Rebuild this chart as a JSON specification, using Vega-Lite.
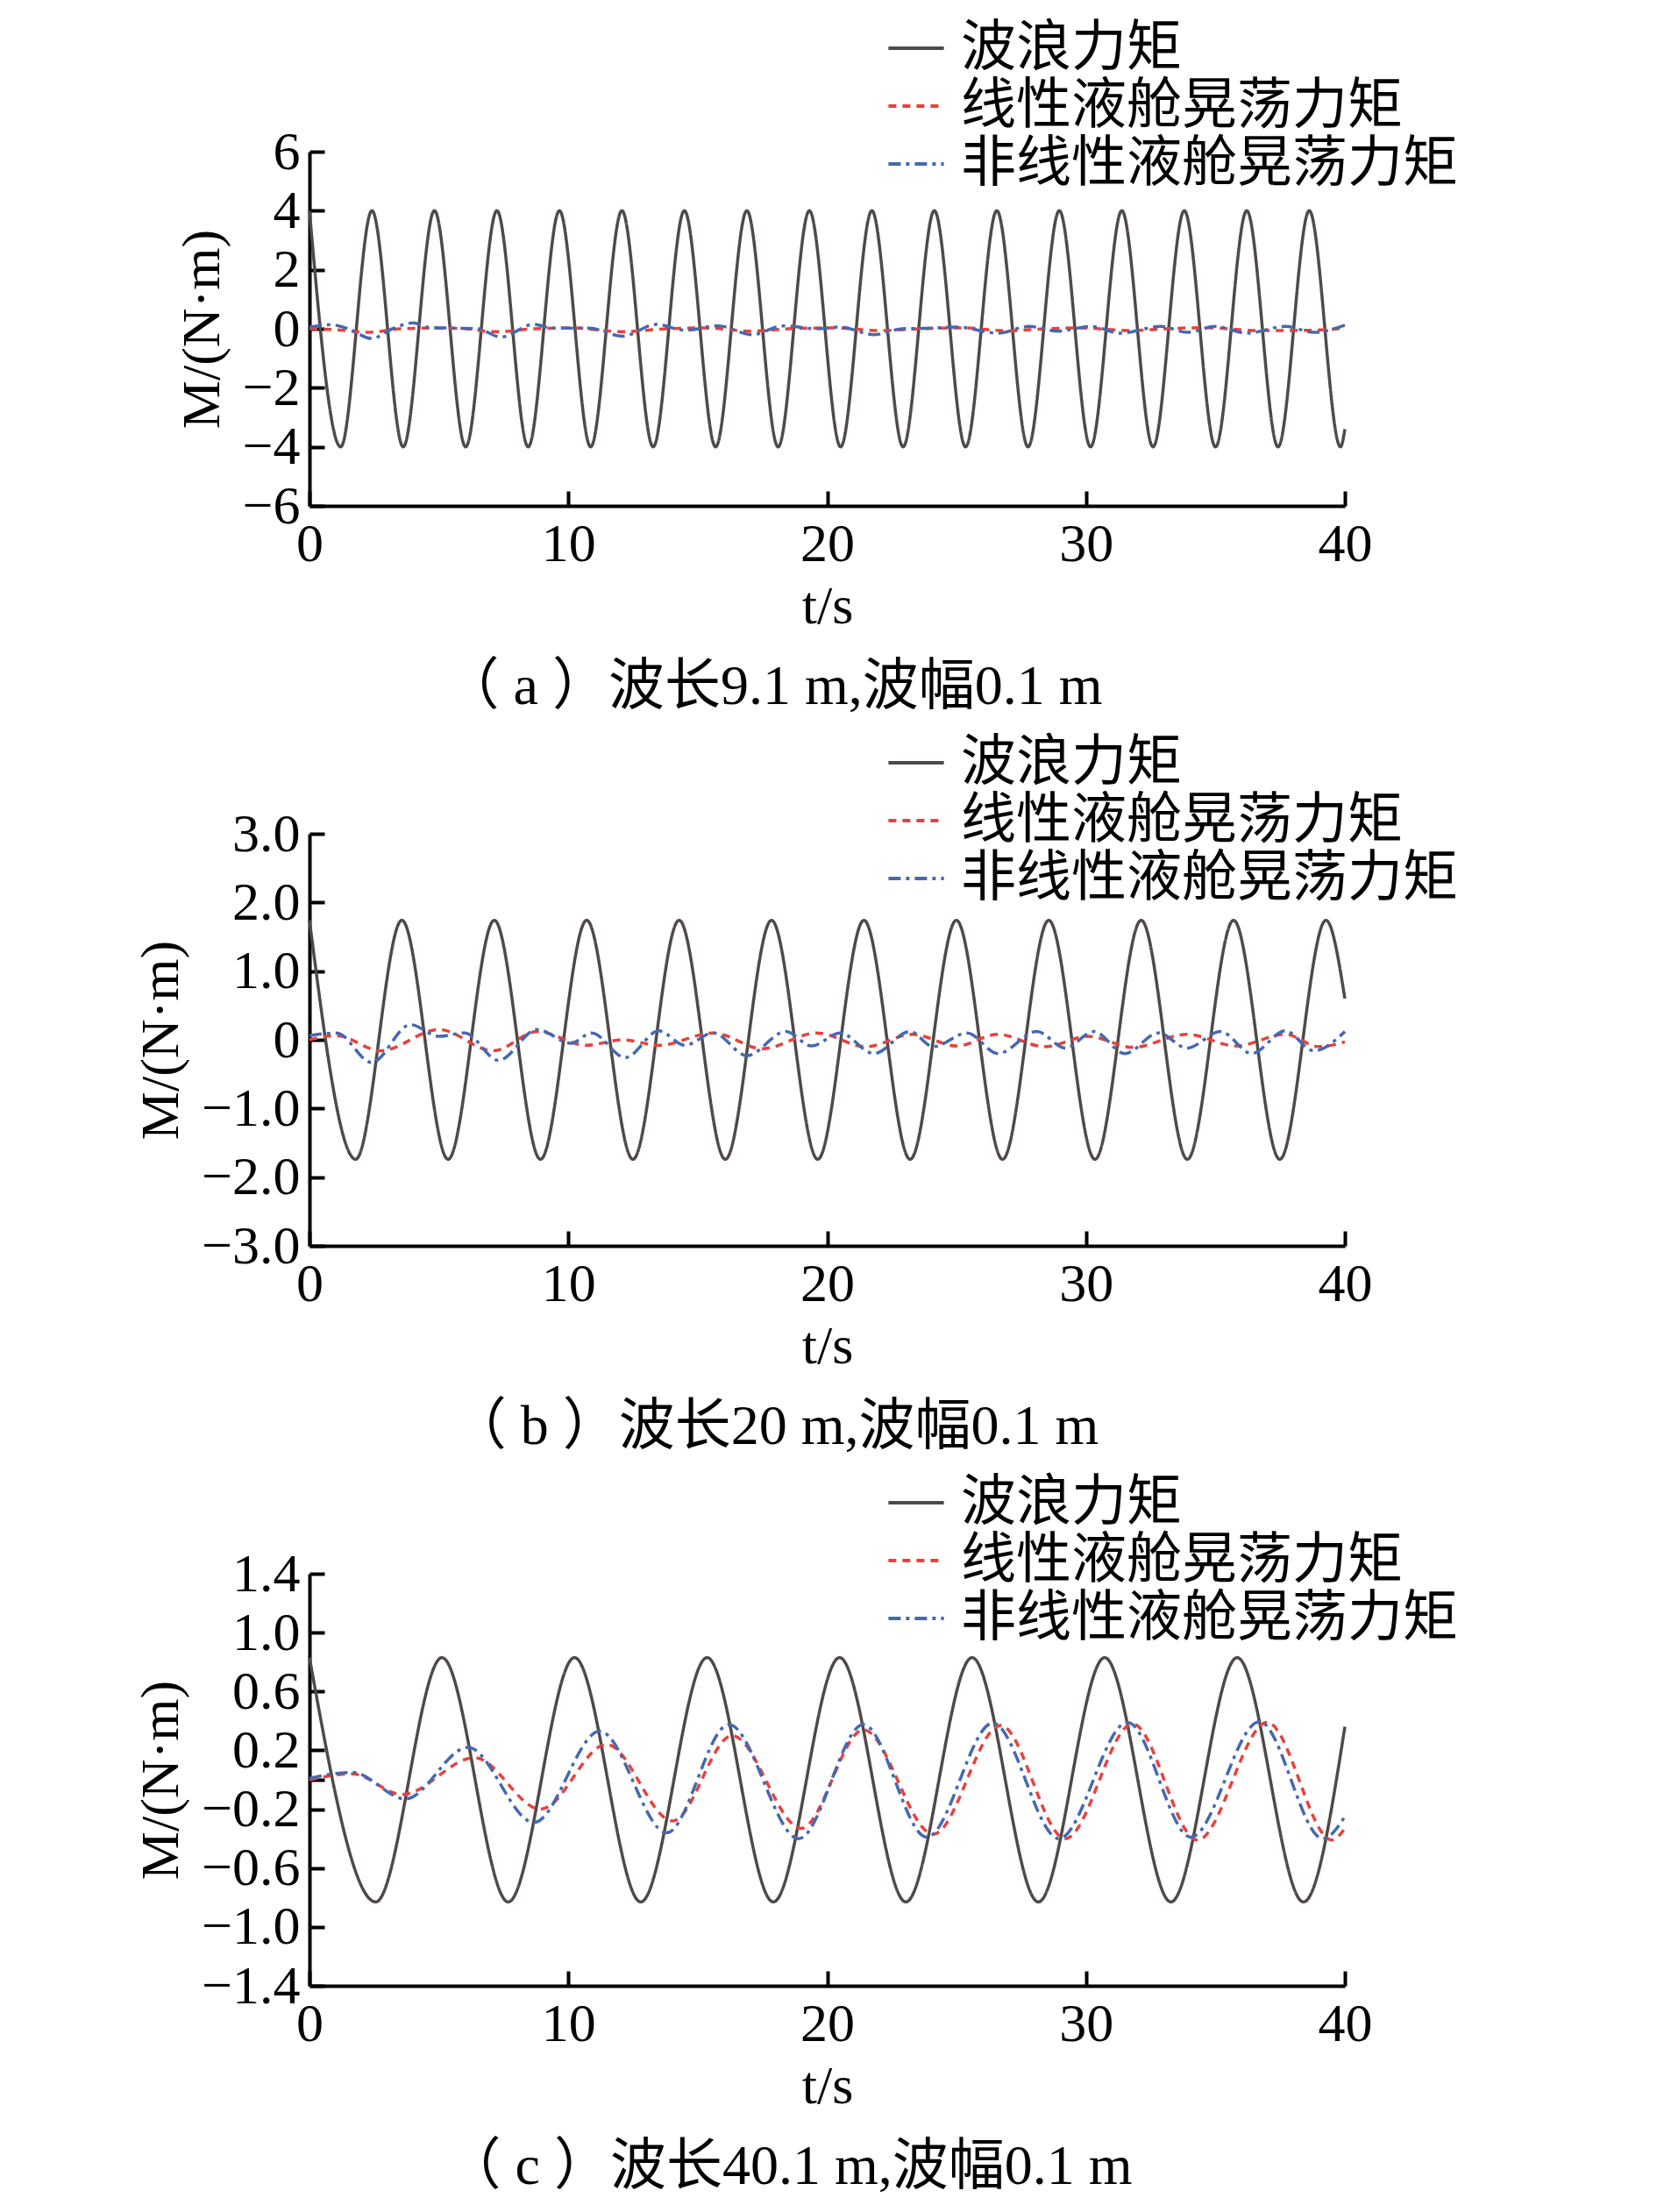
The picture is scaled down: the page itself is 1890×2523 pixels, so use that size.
{
  "$schema": "https://vega.github.io/schema/vega-lite/v6.json",
  "background": "white",
  "padding": {"left": 152, "top": 21, "right": 5, "bottom": 5},
  "config": {
    "font": "Liberation Serif, Noto Sans CJK SC",
    "view": {"stroke": null},
    "axis": {
      "labelFont": "Liberation Serif, Noto Sans CJK SC",
      "labelFontSize": 62, "labelColor": "#000",
      "domainColor": "#000", "domainWidth": 4,
      "tickColor": "#000", "tickWidth": 4, "tickSize": -17,
      "grid": false, "labelFlush": false, "labelOverlap": false,
      "titleFont": "Liberation Serif, Noto Sans CJK SC",
      "titleFontSize": 62, "titleFontWeight": "normal", "titleColor": "#000"
    },
    "axisX": {"labelPadding": 30, "titlePadding": 10},
    "axisY": {"labelPadding": 28, "titlePadding": 14},
    "legend": {
      "labelFont": "Noto Sans CJK SC", "labelFontSize": 63, "labelColor": "#000", "labelLimit": 0,
      "symbolType": "stroke", "symbolSize": 4000, "symbolStrokeWidth": 4,
      "rowPadding": 0, "labelOffset": 17
    },
    "title": {"font": "Liberation Serif, Noto Sans CJK SC", "fontSize": 64, "fontWeight": "normal", "color": "#000"}
  },
  "datasets": {
    "a": [
      {"t": 0, "M": 4, "s": "波浪力矩"}, {"t": 1.207, "M": -4, "s": "波浪力矩"}, {"t": 2.414, "M": 4, "s": "波浪力矩"}, {"t": 3.621, "M": -4, "s": "波浪力矩"}, {"t": 4.828, "M": 4, "s": "波浪力矩"}, {"t": 6.035, "M": -4, "s": "波浪力矩"}, {"t": 7.242, "M": 4, "s": "波浪力矩"}, {"t": 8.449, "M": -4, "s": "波浪力矩"}, {"t": 9.656, "M": 4, "s": "波浪力矩"}, {"t": 10.863, "M": -4, "s": "波浪力矩"}, {"t": 12.07, "M": 4, "s": "波浪力矩"}, {"t": 13.277, "M": -4, "s": "波浪力矩"}, {"t": 14.484, "M": 4, "s": "波浪力矩"}, {"t": 15.691, "M": -4, "s": "波浪力矩"}, {"t": 16.898, "M": 4, "s": "波浪力矩"}, {"t": 18.105, "M": -4, "s": "波浪力矩"}, {"t": 19.312, "M": 4, "s": "波浪力矩"}, {"t": 20.519, "M": -4, "s": "波浪力矩"}, {"t": 21.726, "M": 4, "s": "波浪力矩"}, {"t": 22.933, "M": -4, "s": "波浪力矩"}, {"t": 24.14, "M": 4, "s": "波浪力矩"}, {"t": 25.347, "M": -4, "s": "波浪力矩"}, {"t": 26.554, "M": 4, "s": "波浪力矩"}, {"t": 27.761, "M": -4, "s": "波浪力矩"}, {"t": 28.968, "M": 4, "s": "波浪力矩"}, {"t": 30.175, "M": -4, "s": "波浪力矩"}, {"t": 31.382, "M": 4, "s": "波浪力矩"}, {"t": 32.589, "M": -4, "s": "波浪力矩"}, {"t": 33.796, "M": 4, "s": "波浪力矩"}, {"t": 35.003, "M": -4, "s": "波浪力矩"}, {"t": 36.21, "M": 4, "s": "波浪力矩"}, {"t": 37.417, "M": -4, "s": "波浪力矩"}, {"t": 38.624, "M": 4, "s": "波浪力矩"}, {"t": 39.831, "M": -4, "s": "波浪力矩"}, {"t": 40, "M": -3.4, "s": "波浪力矩"},
      {"t": 0, "M": 0, "s": "线性液舱晃荡力矩"}, {"t": 1, "M": -0.03, "s": "线性液舱晃荡力矩"}, {"t": 2.3, "M": -0.12, "s": "线性液舱晃荡力矩"}, {"t": 3.5, "M": 0, "s": "线性液舱晃荡力矩"}, {"t": 4.6, "M": 0.02, "s": "线性液舱晃荡力矩"}, {"t": 5.8, "M": 0.01, "s": "线性液舱晃荡力矩"}, {"t": 7.2, "M": -0.1, "s": "线性液舱晃荡力矩"}, {"t": 8.7, "M": 0, "s": "线性液舱晃荡力矩"}, {"t": 10.1, "M": 0.03, "s": "线性液舱晃荡力矩"}, {"t": 12.1, "M": -0.1, "s": "线性液舱晃荡力矩"}, {"t": 13.8, "M": 0, "s": "线性液舱晃荡力矩"}, {"t": 15.2, "M": 0.03, "s": "线性液舱晃荡力矩"}, {"t": 17.1, "M": -0.08, "s": "线性液舱晃荡力矩"}, {"t": 18.5, "M": 0, "s": "线性液舱晃荡力矩"}, {"t": 20.3, "M": 0.03, "s": "线性液舱晃荡力矩"}, {"t": 22, "M": -0.06, "s": "线性液舱晃荡力矩"}, {"t": 23.6, "M": 0, "s": "线性液舱晃荡力矩"}, {"t": 25.3, "M": 0.03, "s": "线性液舱晃荡力矩"}, {"t": 26.9, "M": -0.07, "s": "线性液舱晃荡力矩"}, {"t": 28.4, "M": 0, "s": "线性液舱晃荡力矩"}, {"t": 29.8, "M": 0.03, "s": "线性液舱晃荡力矩"}, {"t": 31.7, "M": -0.06, "s": "线性液舱晃荡力矩"}, {"t": 33.1, "M": 0, "s": "线性液舱晃荡力矩"}, {"t": 34.6, "M": 0.04, "s": "线性液舱晃荡力矩"}, {"t": 36.6, "M": -0.06, "s": "线性液舱晃荡力矩"}, {"t": 38.6, "M": -0.05, "s": "线性液舱晃荡力矩"}, {"t": 40, "M": 0.02, "s": "线性液舱晃荡力矩"},
      {"t": 0, "M": 0.05, "s": "非线性液舱晃荡力矩"}, {"t": 0.8, "M": 0.14, "s": "非线性液舱晃荡力矩"}, {"t": 1.5, "M": 0, "s": "非线性液舱晃荡力矩"}, {"t": 2.4, "M": -0.33, "s": "非线性液舱晃荡力矩"}, {"t": 3.2, "M": 0, "s": "非线性液舱晃荡力矩"}, {"t": 4.0, "M": 0.2, "s": "非线性液舱晃荡力矩"}, {"t": 4.6, "M": 0.05, "s": "非线性液舱晃荡力矩"}, {"t": 5.7, "M": 0.02, "s": "非线性液舱晃荡力矩"}, {"t": 6.5, "M": 0, "s": "非线性液舱晃荡力矩"}, {"t": 7.4, "M": -0.28, "s": "非线性液舱晃荡力矩"}, {"t": 8.65, "M": 0.15, "s": "非线性液舱晃荡力矩"}, {"t": 9.4, "M": 0.02, "s": "非线性液舱晃荡力矩"}, {"t": 10.8, "M": 0.02, "s": "非线性液舱晃荡力矩"}, {"t": 12.1, "M": -0.25, "s": "非线性液舱晃荡力矩"}, {"t": 13.4, "M": 0.15, "s": "非线性液舱晃荡力矩"}, {"t": 14.5, "M": -0.05, "s": "非线性液舱晃荡力矩"}, {"t": 15.8, "M": 0.1, "s": "非线性液舱晃荡力矩"}, {"t": 17.1, "M": -0.2, "s": "非线性液舱晃荡力矩"}, {"t": 18.3, "M": 0.1, "s": "非线性液舱晃荡力矩"}, {"t": 19.6, "M": 0, "s": "非线性液舱晃荡力矩"}, {"t": 20.5, "M": 0.06, "s": "非线性液舱晃荡力矩"}, {"t": 21.8, "M": -0.2, "s": "非线性液舱晃荡力矩"}, {"t": 22.9, "M": 0, "s": "非线性液舱晃荡力矩"}, {"t": 24, "M": 0.02, "s": "非线性液舱晃荡力矩"}, {"t": 25, "M": 0.06, "s": "非线性液舱晃荡力矩"}, {"t": 26.6, "M": -0.15, "s": "非线性液舱晃荡力矩"}, {"t": 27.8, "M": 0.08, "s": "非线性液舱晃荡力矩"}, {"t": 28.9, "M": -0.08, "s": "非线性液舱晃荡力矩"}, {"t": 30.2, "M": 0.08, "s": "非线性液舱晃荡力矩"}, {"t": 31.3, "M": -0.15, "s": "非线性液舱晃荡力矩"}, {"t": 32.9, "M": 0.08, "s": "非线性液舱晃荡力矩"}, {"t": 33.9, "M": -0.12, "s": "非线性液舱晃荡力矩"}, {"t": 35, "M": 0.08, "s": "非线性液舱晃荡力矩"}, {"t": 36.2, "M": -0.15, "s": "非线性液舱晃荡力矩"}, {"t": 37.7, "M": 0.08, "s": "非线性液舱晃荡力矩"}, {"t": 38.8, "M": -0.12, "s": "非线性液舱晃荡力矩"}, {"t": 40, "M": 0.12, "s": "非线性液舱晃荡力矩"}
    ],
    "b": [
      {"t": 0, "M": 1.74, "s": "波浪力矩"}, {"t": 1.785, "M": -1.74, "s": "波浪力矩"}, {"t": 3.57, "M": 1.74, "s": "波浪力矩"}, {"t": 5.355, "M": -1.74, "s": "波浪力矩"}, {"t": 7.14, "M": 1.74, "s": "波浪力矩"}, {"t": 8.925, "M": -1.74, "s": "波浪力矩"}, {"t": 10.71, "M": 1.74, "s": "波浪力矩"}, {"t": 12.495, "M": -1.74, "s": "波浪力矩"}, {"t": 14.28, "M": 1.74, "s": "波浪力矩"}, {"t": 16.065, "M": -1.74, "s": "波浪力矩"}, {"t": 17.85, "M": 1.74, "s": "波浪力矩"}, {"t": 19.635, "M": -1.74, "s": "波浪力矩"}, {"t": 21.42, "M": 1.74, "s": "波浪力矩"}, {"t": 23.205, "M": -1.74, "s": "波浪力矩"}, {"t": 24.99, "M": 1.74, "s": "波浪力矩"}, {"t": 26.775, "M": -1.74, "s": "波浪力矩"}, {"t": 28.56, "M": 1.74, "s": "波浪力矩"}, {"t": 30.345, "M": -1.74, "s": "波浪力矩"}, {"t": 32.13, "M": 1.74, "s": "波浪力矩"}, {"t": 33.915, "M": -1.74, "s": "波浪力矩"}, {"t": 35.7, "M": 1.74, "s": "波浪力矩"}, {"t": 37.485, "M": -1.74, "s": "波浪力矩"}, {"t": 39.27, "M": 1.74, "s": "波浪力矩"}, {"t": 40, "M": 0.6, "s": "波浪力矩"},
      {"t": 0, "M": 0, "s": "线性液舱晃荡力矩"}, {"t": 1.05, "M": 0.06, "s": "线性液舱晃荡力矩"}, {"t": 2.75, "M": -0.16, "s": "线性液舱晃荡力矩"}, {"t": 5.0, "M": 0.15, "s": "线性液舱晃荡力矩"}, {"t": 7.1, "M": -0.16, "s": "线性液舱晃荡力矩"}, {"t": 8.8, "M": 0.12, "s": "线性液舱晃荡力矩"}, {"t": 10.7, "M": -0.08, "s": "线性液舱晃荡力矩"}, {"t": 12.1, "M": 0.0, "s": "线性液舱晃荡力矩"}, {"t": 13.5, "M": -0.08, "s": "线性液舱晃荡力矩"}, {"t": 15.6, "M": 0.1, "s": "线性液舱晃荡力矩"}, {"t": 17.5, "M": -0.13, "s": "线性液舱晃荡力矩"}, {"t": 19.6, "M": 0.1, "s": "线性液舱晃荡力矩"}, {"t": 21.5, "M": -0.1, "s": "线性液舱晃荡力矩"}, {"t": 23.3, "M": 0.08, "s": "线性液舱晃荡力矩"}, {"t": 25, "M": -0.09, "s": "线性液舱晃荡力矩"}, {"t": 26.6, "M": 0.08, "s": "线性液舱晃荡力矩"}, {"t": 28.4, "M": -0.1, "s": "线性液舱晃荡力矩"}, {"t": 30.1, "M": 0.05, "s": "线性液舱晃荡力矩"}, {"t": 31.8, "M": -0.11, "s": "线性液舱晃荡力矩"}, {"t": 33.9, "M": 0.08, "s": "线性液舱晃荡力矩"}, {"t": 35.8, "M": -0.09, "s": "线性液舱晃荡力矩"}, {"t": 37.7, "M": 0.08, "s": "线性液舱晃荡力矩"}, {"t": 39, "M": -0.1, "s": "线性液舱晃荡力矩"}, {"t": 40, "M": -0.03, "s": "线性液舱晃荡力矩"},
      {"t": 0, "M": 0.06, "s": "非线性液舱晃荡力矩"}, {"t": 1.05, "M": 0.1, "s": "非线性液舱晃荡力矩"}, {"t": 2.4, "M": -0.33, "s": "非线性液舱晃荡力矩"}, {"t": 3.9, "M": 0.22, "s": "非线性液舱晃荡力矩"}, {"t": 5, "M": 0.05, "s": "非线性液舱晃荡力矩"}, {"t": 6.0, "M": 0.1, "s": "非线性液舱晃荡力矩"}, {"t": 7.3, "M": -0.3, "s": "非线性液舱晃荡力矩"}, {"t": 8.8, "M": 0.15, "s": "非线性液舱晃荡力矩"}, {"t": 10.1, "M": -0.05, "s": "非线性液舱晃荡力矩"}, {"t": 10.9, "M": 0.1, "s": "非线性液舱晃荡力矩"}, {"t": 12.2, "M": -0.26, "s": "非线性液舱晃荡力矩"}, {"t": 13.5, "M": 0.13, "s": "非线性液舱晃荡力矩"}, {"t": 14.5, "M": -0.08, "s": "非线性液舱晃荡力矩"}, {"t": 15.6, "M": 0.1, "s": "非线性液舱晃荡力矩"}, {"t": 16.9, "M": -0.23, "s": "非线性液舱晃荡力矩"}, {"t": 18.4, "M": 0.12, "s": "非线性液舱晃荡力矩"}, {"t": 19.4, "M": -0.09, "s": "非线性液舱晃荡力矩"}, {"t": 20.5, "M": 0.1, "s": "非线性液舱晃荡力矩"}, {"t": 21.8, "M": -0.2, "s": "非线性液舱晃荡力矩"}, {"t": 23.2, "M": 0.12, "s": "非线性液舱晃荡力矩"}, {"t": 24.1, "M": -0.1, "s": "非线性液舱晃荡力矩"}, {"t": 25.4, "M": 0.1, "s": "非线性液舱晃荡力矩"}, {"t": 26.6, "M": -0.2, "s": "非线性液舱晃荡力矩"}, {"t": 28.1, "M": 0.12, "s": "非线性液舱晃荡力矩"}, {"t": 29.2, "M": -0.12, "s": "非线性液舱晃荡力矩"}, {"t": 30.3, "M": 0.12, "s": "非线性液舱晃荡力矩"}, {"t": 31.5, "M": -0.2, "s": "非线性液舱晃荡力矩"}, {"t": 32.8, "M": 0.1, "s": "非线性液舱晃荡力矩"}, {"t": 33.9, "M": -0.12, "s": "非线性液舱晃荡力矩"}, {"t": 35.2, "M": 0.12, "s": "非线性液舱晃荡力矩"}, {"t": 36.4, "M": -0.2, "s": "非线性液舱晃荡力矩"}, {"t": 37.7, "M": 0.13, "s": "非线性液舱晃荡力矩"}, {"t": 38.8, "M": -0.16, "s": "非线性液舱晃荡力矩"}, {"t": 40, "M": 0.12, "s": "非线性液舱晃荡力矩"}
    ],
    "c": [
      {"t": 0, "M": 0.83, "s": "波浪力矩"}, {"t": 2.56, "M": -0.83, "s": "波浪力矩"}, {"t": 5.12, "M": 0.83, "s": "波浪力矩"}, {"t": 7.68, "M": -0.83, "s": "波浪力矩"}, {"t": 10.24, "M": 0.83, "s": "波浪力矩"}, {"t": 12.8, "M": -0.83, "s": "波浪力矩"}, {"t": 15.36, "M": 0.83, "s": "波浪力矩"}, {"t": 17.92, "M": -0.83, "s": "波浪力矩"}, {"t": 20.48, "M": 0.83, "s": "波浪力矩"}, {"t": 23.04, "M": -0.83, "s": "波浪力矩"}, {"t": 25.6, "M": 0.83, "s": "波浪力矩"}, {"t": 28.16, "M": -0.83, "s": "波浪力矩"}, {"t": 30.72, "M": 0.83, "s": "波浪力矩"}, {"t": 33.28, "M": -0.83, "s": "波浪力矩"}, {"t": 35.84, "M": 0.83, "s": "波浪力矩"}, {"t": 38.4, "M": -0.83, "s": "波浪力矩"}, {"t": 40, "M": 0.36, "s": "波浪力矩"},
      {"t": 0, "M": 0, "s": "线性液舱晃荡力矩"}, {"t": 1.66, "M": 0.04, "s": "线性液舱晃荡力矩"}, {"t": 3.57, "M": -0.1, "s": "线性液舱晃荡力矩"}, {"t": 6.38, "M": 0.15, "s": "线性液舱晃荡力矩"}, {"t": 8.93, "M": -0.2, "s": "线性液舱晃荡力矩"}, {"t": 11.48, "M": 0.24, "s": "线性液舱晃荡力矩"}, {"t": 14.03, "M": -0.28, "s": "线性液舱晃荡力矩"}, {"t": 16.33, "M": 0.3, "s": "线性液舱晃荡力矩"}, {"t": 19.0, "M": -0.33, "s": "线性液舱晃荡力矩"}, {"t": 21.4, "M": 0.34, "s": "线性液舱晃荡力矩"}, {"t": 24.1, "M": -0.37, "s": "线性液舱晃荡力矩"}, {"t": 26.7, "M": 0.37, "s": "线性液舱晃荡力矩"}, {"t": 29.2, "M": -0.4, "s": "线性液舱晃荡力矩"}, {"t": 31.8, "M": 0.38, "s": "线性液舱晃荡力矩"}, {"t": 34.3, "M": -0.41, "s": "线性液舱晃荡力矩"}, {"t": 37.0, "M": 0.39, "s": "线性液舱晃荡力矩"}, {"t": 39.5, "M": -0.41, "s": "线性液舱晃荡力矩"}, {"t": 40, "M": -0.33, "s": "线性液舱晃荡力矩"},
      {"t": 0, "M": 0.01, "s": "非线性液舱晃荡力矩"}, {"t": 1.66, "M": 0.05, "s": "非线性液舱晃荡力矩"}, {"t": 3.7, "M": -0.13, "s": "非线性液舱晃荡力矩"}, {"t": 6.12, "M": 0.22, "s": "非线性液舱晃荡力矩"}, {"t": 8.67, "M": -0.29, "s": "非线性液舱晃荡力矩"}, {"t": 11.22, "M": 0.33, "s": "非线性液舱晃荡力矩"}, {"t": 13.8, "M": -0.36, "s": "非线性液舱晃荡力矩"}, {"t": 16.2, "M": 0.375, "s": "非线性液舱晃荡力矩"}, {"t": 18.9, "M": -0.4, "s": "非线性液舱晃荡力矩"}, {"t": 21.4, "M": 0.375, "s": "非线性液舱晃荡力矩"}, {"t": 23.85, "M": -0.39, "s": "非线性液舱晃荡力矩"}, {"t": 26.4, "M": 0.385, "s": "非线性液舱晃荡力矩"}, {"t": 28.95, "M": -0.4, "s": "非线性液舱晃荡力矩"}, {"t": 31.6, "M": 0.39, "s": "非线性液舱晃荡力矩"}, {"t": 34.05, "M": -0.39, "s": "非线性液舱晃荡力矩"}, {"t": 36.7, "M": 0.395, "s": "非线性液舱晃荡力矩"}, {"t": 39.15, "M": -0.4, "s": "非线性液舱晃荡力矩"}, {"t": 40, "M": -0.25, "s": "非线性液舱晃荡力矩"}
    ]
  },
  "vconcat": [
    {
      "width": 1181, "height": 404,
      "data": {"name": "a"},
      "title": {"text": "（ a ）波长9.1 m,波幅0.1 m", "orient": "bottom", "offset": 30, "dx": -62},
      "mark": {"type": "line", "strokeWidth": 3.5, "interpolate": "monotone"},
      "encoding": {
        "x": {"field": "t", "type": "quantitative", "scale": {"domain": [0, 40], "nice": false}, "axis": {"values": [0, 10, 20, 30, 40], "title": "t/s"}},
        "y": {"field": "M", "type": "quantitative", "scale": {"domain": [-6, 6], "nice": false}, "axis": {"values": [-6, -4, -2, 0, 2, 4, 6], "title": "M/(N·m)"}},
        "color": {"field": "s", "type": "nominal", "scale": {"domain": ["波浪力矩", "线性液舱晃荡力矩", "非线性液舱晃荡力矩"], "range": ["#4f4948", "#e8413c", "#4568b1"]}, "legend": {"title": null, "orient": "none", "legendX": 658, "legendY": -152}},
        "strokeDash": {"field": "s", "type": "nominal", "scale": {"domain": ["波浪力矩", "线性液舱晃荡力矩", "非线性液舱晃荡力矩"], "range": [[1, 0], [9, 7], [14, 6, 4, 6]]}, "legend": {"title": null, "orient": "none", "legendX": 658, "legendY": -152}}
      }
    },
    {
      "width": 1181, "height": 470,
      "data": {"name": "b"},
      "title": {"text": "（ b ）波长20 m,波幅0.1 m", "orient": "bottom", "offset": 30, "dx": -60},
      "mark": {"type": "line", "strokeWidth": 3.5, "interpolate": "monotone"},
      "encoding": {
        "x": {"field": "t", "type": "quantitative", "scale": {"domain": [0, 40], "nice": false}, "axis": {"values": [0, 10, 20, 30, 40], "title": "t/s"}},
        "y": {"field": "M", "type": "quantitative", "scale": {"domain": [-3, 3], "nice": false}, "axis": {"values": [-3, -2, -1, 0, 1, 2, 3], "labelExpr": "datum.value === 0 ? '0' : format(datum.value, '.1f')", "title": "M/(N·m)"}},
        "color": {"field": "s", "type": "nominal", "scale": {"domain": ["波浪力矩", "线性液舱晃荡力矩", "非线性液舱晃荡力矩"], "range": ["#4f4948", "#e8413c", "#4568b1"]}, "legend": {"title": null, "orient": "none", "legendX": 658, "legendY": -115}},
        "strokeDash": {"field": "s", "type": "nominal", "scale": {"domain": ["波浪力矩", "线性液舱晃荡力矩", "非线性液舱晃荡力矩"], "range": [[1, 0], [9, 7], [14, 6, 4, 6]]}, "legend": {"title": null, "orient": "none", "legendX": 658, "legendY": -115}}
      }
    },
    {
      "width": 1181, "height": 470,
      "data": {"name": "c"},
      "title": {"text": "（ c ）波长40.1 m,波幅0.1 m", "orient": "bottom", "offset": 30, "dx": -44},
      "mark": {"type": "line", "strokeWidth": 3.5, "interpolate": "monotone"},
      "encoding": {
        "x": {"field": "t", "type": "quantitative", "scale": {"domain": [0, 40], "nice": false}, "axis": {"values": [0, 10, 20, 30, 40], "title": "t/s"}},
        "y": {"field": "M", "type": "quantitative", "scale": {"domain": [-1.4, 1.4], "nice": false}, "axis": {"values": [-1.4, -1.0, -0.6, -0.2, 0, 0.2, 0.6, 1.0, 1.4], "labelExpr": "datum.value === 0 ? '' : format(datum.value, '.1f')", "title": "M/(N·m)"}},
        "color": {"field": "s", "type": "nominal", "scale": {"domain": ["波浪力矩", "线性液舱晃荡力矩", "非线性液舱晃荡力矩"], "range": ["#4f4948", "#e8413c", "#4568b1"]}, "legend": {"title": null, "orient": "none", "legendX": 658, "legendY": -115}},
        "strokeDash": {"field": "s", "type": "nominal", "scale": {"domain": ["波浪力矩", "线性液舱晃荡力矩", "非线性液舱晃荡力矩"], "range": [[1, 0], [9, 7], [14, 6, 4, 6]]}, "legend": {"title": null, "orient": "none", "legendX": 658, "legendY": -115}}
      }
    }
  ],
  "spacing": 374,
  "bounds": "flush",
  "resolve": {"scale": {"color": "independent", "strokeDash": "independent"}, "legend": {"color": "independent", "strokeDash": "independent"}}
}
